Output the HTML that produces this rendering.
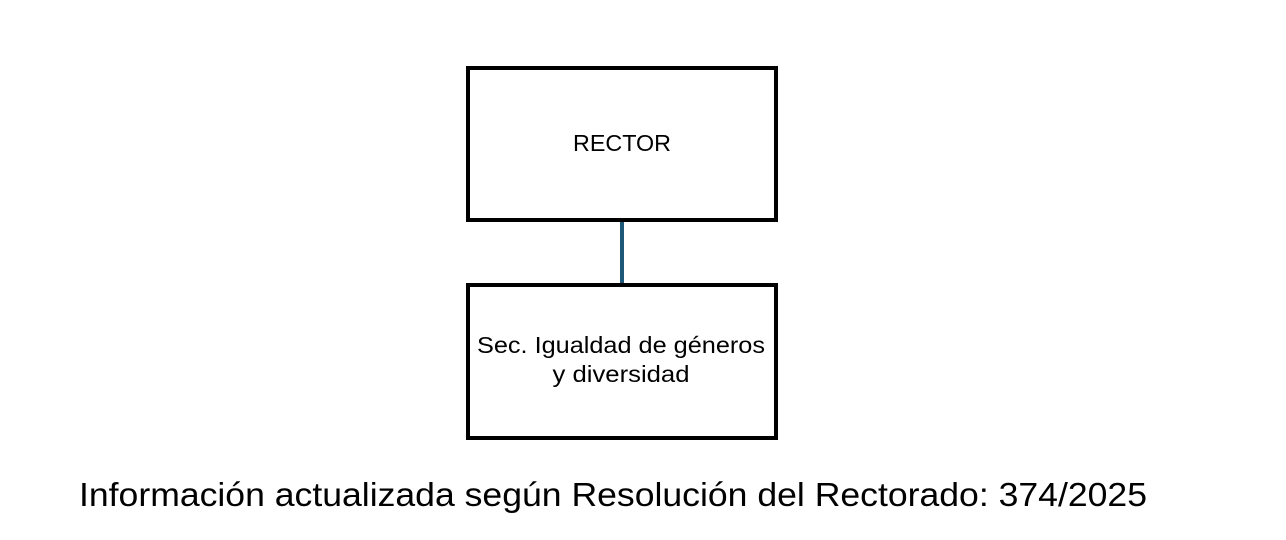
<!DOCTYPE html>
<html><head><meta charset="utf-8"><style>html,body{margin:0;padding:0;background:#fff;}svg{display:block}</style></head>
<body>
<svg width="1286" height="540" xmlns="http://www.w3.org/2000/svg" font-family="Liberation Sans, sans-serif">
<rect width="1286" height="540" fill="#fff"/>
<rect x="468" y="68" width="308" height="152" fill="#fff" stroke="#000" stroke-width="4"/>
<line x1="622" y1="222" x2="622" y2="283" stroke="#1d5878" stroke-width="4"/>
<rect x="468" y="285" width="308" height="153" fill="#fff" stroke="#000" stroke-width="4"/>
<text x="622" y="151" font-size="23" text-anchor="middle" textLength="98" lengthAdjust="spacingAndGlyphs">RECTOR</text>
<text x="621" y="353" font-size="23" text-anchor="middle" textLength="288" lengthAdjust="spacingAndGlyphs">Sec. Igualdad de géneros</text>
<text x="621" y="382" font-size="23" text-anchor="middle" textLength="137" lengthAdjust="spacingAndGlyphs">y diversidad</text>
<text x="79" y="506" font-size="33" textLength="1068" lengthAdjust="spacingAndGlyphs">Información actualizada según Resolución del Rectorado: 374/2025</text>
</svg>
</body></html>
